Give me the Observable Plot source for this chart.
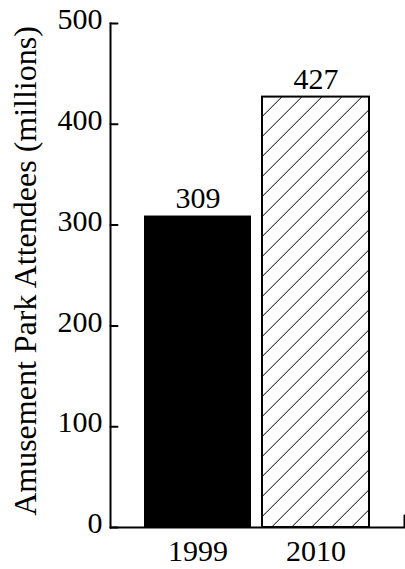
<!DOCTYPE html>
<html><head><meta charset="utf-8">
<script src="https://cdn.jsdelivr.net/npm/d3@7"></script>
<script src="https://cdn.jsdelivr.net/npm/@observablehq/plot@0.6"></script>
<style>body{margin:0;background:#fff} svg{display:block}</style>
</head><body><div id="chart"></div>
<script>
const years = ["1999", "2010"];
const attendees = [309, 427];
const yTicks = [0, 100, 200, 300, 400, 500];
const yLabel = "Amusement Park Attendees (millions)";

const data = years.map((year, i) => ({year, value: attendees[i]}));
const font = "'Liberation Serif', 'Times New Roman', serif";
const lineShape = {draw(context, l) { context.moveTo(0, 0); context.lineTo(0, -l); }};

const chart = Plot.plot({
  width: 405, height: 569,
  marginLeft: 110, marginRight: 1, marginTop: 23, marginBottom: 42,
  style: {fontFamily: font, fontSize: "30px", color: "black", background: "white"},
  x: {domain: years, paddingInner: 0.093, paddingOuter: 0.29},
  y: {domain: [0, 500]},
  marks: [
    Plot.barY(data.filter((d, i) => i === 0), {x: "year", y: "value", fill: "black"}),
    Plot.barY(data.filter((d, i) => i === 1), {x: "year", y: "value", fill: "url(#hatch)", stroke: "black", strokeWidth: 2}),
    Plot.text(data, {x: "year", y: "value", text: d => String(d.value), lineAnchor: "bottom", dy: -8, fontSize: 30}),
    Plot.ruleY([0], {strokeWidth: 2}),
    Plot.frame({anchor: "left", strokeWidth: 2}),
    Plot.vector(yTicks, {y: d => d, frameAnchor: "left", rotate: 90, length: 7, anchor: "start", shape: lineShape, strokeWidth: 2}),
    Plot.vector([0], {frameAnchor: "bottom-right", rotate: 0, length: 12, anchor: "start", shape: lineShape, strokeWidth: 2}),
    Plot.axisY(yTicks, {tickSize: 0, tickPadding: 8, dy: -4, label: null, fontSize: 30}),
    Plot.axisX({tickSize: 0, tickPadding: 12, label: null, fontSize: 30}),
    Plot.text([yLabel], {frameAnchor: "left", textAnchor: "middle", rotate: -90, dx: -85, dy: -4.5, fontSize: 32})
  ]
});

const ns = "http://www.w3.org/2000/svg";
const defs = document.createElementNS(ns, "defs");
defs.innerHTML = '<pattern id="hatch" patternUnits="userSpaceOnUse" x="-1.3" y="0" width="20" height="20"><path d="M-5,5 l10,-10 M0,20 l20,-20 M15,25 l10,-10" stroke="black" stroke-width="1"/></pattern>';
chart.insertBefore(defs, chart.firstChild);
document.getElementById("chart").appendChild(chart);
</script>
</body></html>
